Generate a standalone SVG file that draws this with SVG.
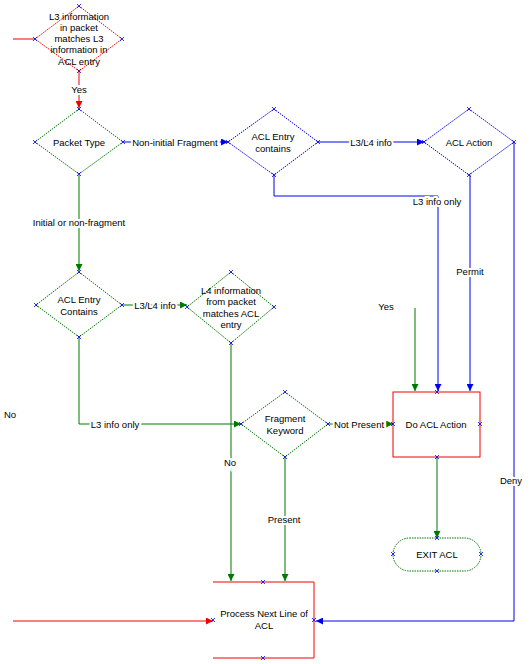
<svg xmlns="http://www.w3.org/2000/svg" xmlns:xlink="http://www.w3.org/1999/xlink" width="530" height="664" viewBox="0 0 530 664">
<style>
text{font-family:"Liberation Sans",Arial,sans-serif;font-size:9.5px;fill:#000;text-anchor:middle;dominant-baseline:central}
.lbl{paint-order:stroke;stroke:#fff;stroke-width:4px}
.dr{fill:#fff;stroke:#e00;stroke-dasharray:1.5 1}
.dg{fill:#fff;stroke:#070;stroke-dasharray:1.5 1}
.db{fill:#fff;stroke:#00e;stroke-dasharray:1.5 1}
.r{fill:none;stroke:#e00;stroke-width:1}
.g{fill:none;stroke:#070;stroke-width:1}
.b{fill:none;stroke:#00e;stroke-width:1}
.x{fill:none;stroke:#00e;stroke-width:0.8}
</style>
<defs>
<symbol id="x" overflow="visible"><path class="x" d="M-2,-2L2,2M-2,2L2,-2"/></symbol>
<marker id="ar" viewBox="0 0 8 8" refX="8" refY="4" markerWidth="7" markerHeight="7" orient="auto" markerUnits="userSpaceOnUse"><path d="M0,0L8,4L0,8z" fill="#e00"/></marker>
<marker id="ag" viewBox="0 0 8 8" refX="8" refY="4" markerWidth="7" markerHeight="7" orient="auto" markerUnits="userSpaceOnUse"><path d="M0,0L8,4L0,8z" fill="#070"/></marker>
<marker id="ab" viewBox="0 0 8 8" refX="8" refY="4" markerWidth="7" markerHeight="7" orient="auto" markerUnits="userSpaceOnUse"><path d="M0,0L8,4L0,8z" fill="#00e"/></marker>
</defs>
<g id="connectors">
<path class="r" d="M13,39H35"/>
<path class="r" d="M79,71V108" marker-end="url(#ar)"/>
<text class="lbl" x="79" y="89">Yes</text>
<path class="b" d="M123,142H228" marker-end="url(#ab)"/>
<text class="lbl" x="175" y="142">Non-initial Fragment</text>
<path class="b" d="M318,142H424" marker-end="url(#ab)"/>
<text class="lbl" x="371" y="142">L3/L4 info</text>
<path class="b" d="M274,175V196H438V391" marker-end="url(#ab)"/>
<text class="lbl" x="437" y="201">L3 info only</text>
<path class="b" d="M470,175V391" marker-end="url(#ab)"/>
<text class="lbl" x="470" y="271">Permit</text>
<path class="b" d="M514,142V621H316" marker-end="url(#ab)"/>
<text class="lbl" x="511" y="480">Deny</text>
<path class="g" d="M79,175V271" marker-end="url(#ag)"/>
<text class="lbl" x="79" y="222">Initial or non-fragment</text>
<path class="g" d="M122,305H187" marker-end="url(#ag)"/>
<text class="lbl" x="155" y="305">L3/L4 info</text>
<path class="g" d="M79,337V424H241" marker-end="url(#ag)"/>
<text class="lbl" x="115" y="424">L3 info only</text>
<path class="g" d="M231,343V581" marker-end="url(#ag)"/>
<text class="lbl" x="230" y="462">No</text>
<path class="g" d="M328,424H393" marker-end="url(#ag)"/>
<text class="lbl" x="359" y="424">Not Present</text>
<path class="g" d="M285,457V581" marker-end="url(#ag)"/>
<text class="lbl" x="284" y="519">Present</text>
<path class="g" d="M415,308V391" marker-end="url(#ag)"/>
<text x="386" y="306">Yes</text>
<text x="10" y="414">No</text>
<path class="g" d="M437,457V538" marker-end="url(#ag)"/>
<path class="r" d="M13,621H213" marker-end="url(#ar)"/>
</g>
<g id="n1">
<path class="dr" d="M79,6L122,39L79,71L35,39z"/>
<text x="79" y="16">L3 information</text>
<text x="79" y="27">in packet</text>
<text x="79" y="38">matches L3</text>
<text x="79" y="49">information in</text>
<text x="79" y="61">ACL entry</text>
<use href="#x" x="79" y="6"/><use href="#x" x="35" y="39"/><use href="#x" x="122" y="39"/><use href="#x" x="79" y="71"/>
</g>
<g id="n2">
<path class="dg" d="M79,109L123,142L79,174L35,142z"/>
<text x="79" y="142">Packet Type</text>
<use href="#x" x="79" y="109"/><use href="#x" x="35" y="142"/><use href="#x" x="123" y="142"/><use href="#x" x="79" y="174"/>
</g>
<g id="n3">
<path class="db" d="M274,109L318,142L274,175L228,142z"/>
<text x="273" y="136">ACL Entry</text>
<text x="273" y="148">contains</text>
<use href="#x" x="274" y="109"/><use href="#x" x="228" y="142"/><use href="#x" x="318" y="142"/><use href="#x" x="274" y="175"/>
</g>
<g id="n4">
<path class="db" d="M469,109L514,142L469,175L424,142z"/>
<text x="469" y="142">ACL Action</text>
<use href="#x" x="469" y="109"/><use href="#x" x="424" y="142"/><use href="#x" x="514" y="142"/><use href="#x" x="469" y="175"/>
</g>
<g id="n5">
<path class="dg" d="M79,272L122,305L79,337L36,305z"/>
<text x="79" y="299">ACL Entry</text>
<text x="79" y="311">Contains</text>
<use href="#x" x="79" y="272"/><use href="#x" x="36" y="305"/><use href="#x" x="122" y="305"/><use href="#x" x="79" y="337"/>
</g>
<g id="n6">
<path class="dg" d="M231,272L274,307L231,343L187,307z"/>
<text x="231" y="290">L4 information</text>
<text x="231" y="301">from packet</text>
<text x="231" y="313">matches ACL</text>
<text x="231" y="324">entry</text>
<use href="#x" x="231" y="272"/><use href="#x" x="187" y="307"/><use href="#x" x="274" y="307"/><use href="#x" x="231" y="343"/>
</g>
<g id="n7">
<path class="dg" d="M285,392L328,424L285,457L241,424z"/>
<text x="285" y="418">Fragment</text>
<text x="285" y="430">Keyword</text>
<use href="#x" x="285" y="392"/><use href="#x" x="241" y="424"/><use href="#x" x="328" y="424"/><use href="#x" x="285" y="457"/>
</g>
<g id="n8">
<rect x="393" y="392" width="87" height="65" fill="#fff" stroke="#e00"/>
<text x="436" y="424">Do ACL Action</text>
<use href="#x" x="393" y="424"/><use href="#x" x="480" y="424"/><use href="#x" x="437" y="457"/><use href="#x" x="437" y="392"/>
</g>
<g id="n9">
<rect x="393" y="538" width="88" height="33" rx="16.5" fill="#fff" stroke="#070" stroke-dasharray="1.5 1"/>
<text x="437" y="554">EXIT ACL</text>
<use href="#x" x="437" y="538"/><use href="#x" x="393" y="554"/><use href="#x" x="481" y="554"/><use href="#x" x="437" y="571"/>
</g>
<g id="n10">
<path d="M213,582H314V658H213" fill="#fff" stroke="#e00"/>
<text x="264" y="613">Process Next Line of</text>
<text x="264" y="625">ACL</text>
<use href="#x" x="263" y="582"/><use href="#x" x="213" y="620"/><use href="#x" x="314" y="620"/><use href="#x" x="263" y="658"/>
</g>
</svg>
